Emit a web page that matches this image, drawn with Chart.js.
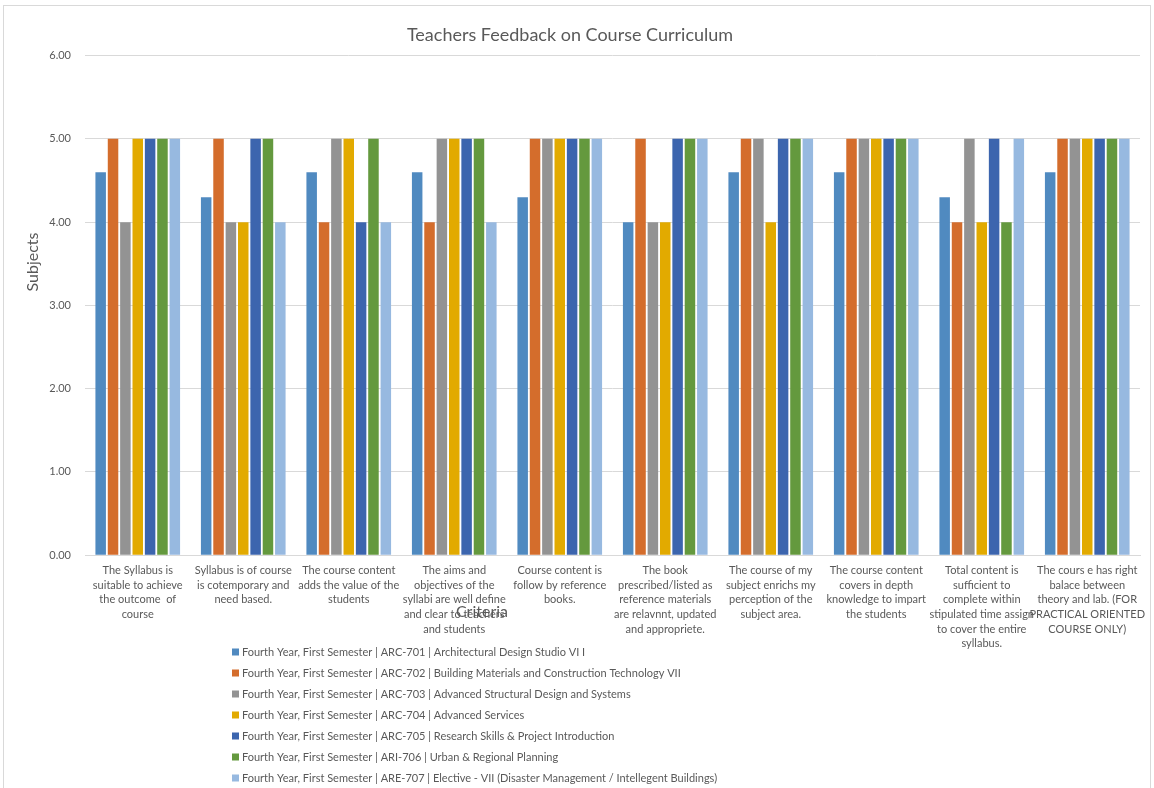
<!DOCTYPE html>
<html>
<head>
<meta charset="utf-8">
<script src="https://cdn.jsdelivr.net/npm/chart.js@4"></script>
<style>
  html, body { margin: 0; padding: 0; background: #fff; }
  #wrap { width: 1154px; height: 788px; }
</style>
</head>
<body>
<div id="wrap"><canvas id="chart"></canvas></div>
<script>
// Criteria (x-axis categories), each split into the lines shown under the bars
const criteria = [
  ['The Syllabus is', 'suitable to achieve', 'the outcome  of', 'course'],
  ['Syllabus is of course', 'is cotemporary and', 'need based.'],
  ['The course content', 'adds the value of the', 'students'],
  ['The aims and', 'objectives of the', 'syllabi are well define', 'and clear to teachers', 'and students'],
  ['Course content is', 'follow by reference', 'books.'],
  ['The book', 'prescribed/listed as', 'reference materials', 'are relavnnt, updated', 'and appropriete.'],
  ['The course of my', 'subject enrichs my', 'perception of the', 'subject area.'],
  ['The course content', 'covers in depth', 'knowledge to impart', 'the students'],
  ['Total content is', 'sufficient to', 'complete within', 'stipulated time assign', 'to cover the entire', 'syllabus.'],
  ['The cours e has right', 'balace between', 'theory and lab. (FOR', 'PRACTICAL ORIENTED', 'COURSE ONLY)']
];

// Subjects (series)
const subjects = [
  'Fourth Year, First Semester | ARC-701 | Architectural Design Studio VI I',
  'Fourth Year, First Semester | ARC-702 | Building Materials and Construction Technology VII',
  'Fourth Year, First Semester | ARC-703 | Advanced Structural Design and Systems',
  'Fourth Year, First Semester | ARC-704 | Advanced Services',
  'Fourth Year, First Semester | ARC-705 | Research Skills & Project Introduction',
  'Fourth Year, First Semester | ARI-706 | Urban & Regional Planning',
  'Fourth Year, First Semester | ARE-707 | Elective - VII (Disaster Management / Intellegent Buildings)'
];

// Average score per criterion for each subject
const arc701 = [4.6, 4.3, 4.6, 4.6, 4.3, 4.0, 4.6, 4.6, 4.3, 4.6];
const arc702 = [5, 5, 4, 4, 5, 5, 5, 5, 4, 5];
const arc703 = [4, 4, 5, 5, 5, 4, 5, 5, 5, 5];
const arc704 = [5, 4, 5, 5, 5, 4, 4, 5, 4, 5];
const arc705 = [5, 5, 4, 5, 5, 5, 5, 5, 5, 5];
const ari706 = [5, 5, 5, 5, 5, 5, 5, 5, 4, 5];
const are707 = [5, 4, 4, 4, 5, 5, 5, 5, 5, 5];

const yTicks = [0, 1, 2, 3, 4, 5, 6];

const colors = ['#508AC0', '#D46D2C', '#939393', '#E2AA00', '#3C65AE', '#64993E', '#97B9E0'];
const seriesValues = [arc701, arc702, arc703, arc704, arc705, ari706, are707];

const FONT = 'Lato, "Open Sans", sans-serif';
const TEXT = '#595959';

// Frame, axis titles placed like the original, and a one-per-row legend
const extras = {
  id: 'extras',
  beforeDraw(chart) {
    const c = chart.ctx;
    c.save();
    c.fillStyle = '#fff';
    c.fillRect(0, 0, chart.width, chart.height);
    c.strokeStyle = '#D9D9D9';
    c.lineWidth = 1;
    c.strokeRect(3.5, 5.5, chart.width - 7, chart.height + 20);
    c.restore();
  },
  afterDraw(chart) {
    const c = chart.ctx;
    c.save();
    c.fillStyle = TEXT;
    c.font = '16px ' + FONT;
    c.textAlign = 'center';
    c.textBaseline = 'middle';
    c.fillText('Criteria', 482, 612);
    c.translate(33, 262);
    c.rotate(-Math.PI / 2);
    c.fillText('Subjects', 0, 0);
    c.restore();

    c.save();
    c.font = '11px ' + FONT;
    c.textBaseline = 'middle';
    c.textAlign = 'left';
    chart.data.datasets.forEach((ds, i) => {
      const y = 652 + i * 21;
      c.fillStyle = ds.backgroundColor;
      c.fillRect(232, y - 3.5, 7, 7);
      c.fillStyle = TEXT;
      c.fillText(ds.label, 242, y);
    });
    c.restore();
  }
};

new Chart(document.getElementById('chart'), {
  type: 'bar',
  data: {
    labels: criteria,
    datasets: subjects.map((name, i) => ({
      label: name,
      data: seriesValues[i],
      backgroundColor: colors[i],
      categoryPercentage: 0.82,
      barPercentage: 0.85
    }))
  },
  options: {
    responsive: true,
    maintainAspectRatio: false,
    animation: false,
    layout: { padding: { left: 0, right: 14, top: 0, bottom: 137 } },
    plugins: {
      legend: { display: false },
      tooltip: { enabled: false },
      title: {
        display: true,
        text: 'Teachers Feedback on Course Curriculum',
        color: TEXT,
        font: { family: FONT, size: 18, weight: 'normal' },
        padding: { top: 24, bottom: 10 }
      }
    },
    scales: {
      y: {
        min: 0,
        max: 6,
        afterBuildTicks: (scale) => { scale.ticks = yTicks.map(v => ({ value: v })); },
        afterFit: (scale) => { scale.width = 85; },
        ticks: {
          callback: (v) => Number(v).toFixed(2),
          color: TEXT,
          font: { family: FONT, size: 11 },
          padding: 14
        },
        grid: { color: '#D9D9D9', drawTicks: false },
        border: { display: false }
      },
      x: {
        grid: { display: false },
        border: { color: '#D9D9D9' },
        ticks: {
          color: TEXT,
          font: { family: FONT, size: 11, lineHeight: 1.33 },
          maxRotation: 0,
          minRotation: 0,
          autoSkip: false,
          padding: 0
        }
      }
    }
  },
  plugins: [extras]
});
</script>
</body>
</html>
